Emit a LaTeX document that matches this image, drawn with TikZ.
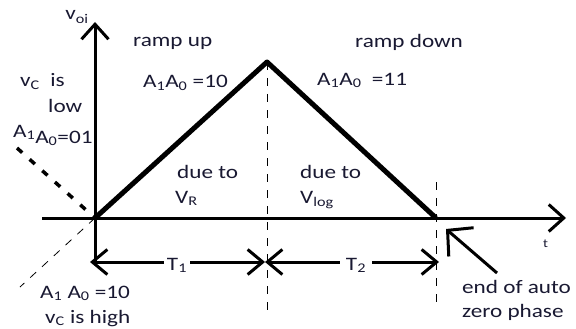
\documentclass[tikz,border=0pt]{standalone}
\usepackage{fontspec}
\setmainfont{Carlito}[FakeStretch=1.22]
\usetikzlibrary{arrows.meta}
\definecolor{ink}{RGB}{25,25,50}
\tikzset{
  axis/.style={line width=3pt,-{Straight Barb[length=15pt,width=27pt]}},
  span/.style={line width=3pt,-{Straight Barb[length=15pt,width=25pt]}},
  ramp/.style={line width=5pt,line join=round},
  guide/.style={line width=0.9pt,dash pattern=on 8pt off 8pt},
  lbl/.style={font=\fontsize{19}{21}\selectfont,text=ink,inner sep=0pt,anchor=base west},
  tlbl/.style={lbl,anchor=base,inner sep=3pt},
}
\newcommand{\sub}[1]{\textsubscript{#1}}
\begin{document}
\begin{tikzpicture}[x=1pt,y=-1pt]
  \useasboundingbox[fill=white] (0,0) rectangle (576,329);
  % key points
  \coordinate (O) at (95,218);
  \coordinate (peak) at (267,62);
  \coordinate (E) at (436,218);
  \coordinate (xl) at (42,218);
  \coordinate (xr) at (566,218);
  \coordinate (yb) at (95,262);
  \coordinate (yt) at (95,22);
  \coordinate (mid) at (265,262);
  \coordinate (t1l) at (90,262);
  \coordinate (t2r) at (439,262);
  \coordinate (peakfoot) at (267,310);
  \coordinate (etop) at (436,182);
  \coordinate (efoot) at (436,307);
  \coordinate (lowend) at (17,148);
  \coordinate (highend) at (20,287);
  \coordinate (ptail) at (497,273);
  \coordinate (ptip) at (446,229);
  % axes
  \draw[axis] (xl) -- (xr);
  \draw[axis] (yb) -- (yt);
  % ramp
  \draw[ramp] (O) -- (peak) -- (E);
  \draw[guide] (peak) -- (peakfoot);
  \draw[guide] (etop) -- (efoot);
  \draw[line width=3.5pt,dash pattern=on 7pt off 10pt] (lowend) -- (O);
  \draw[guide,line width=0.8pt] (O) -- (highend);
  % labels
  \node[lbl,anchor=base] (voi) at (77,20) {v\sub{oi}};
  \node[lbl] (up) at (133,47) {ramp up};
  \node[lbl] (code10) at (143,88) {A\sub{1}A\sub{0} =10};
  \node[lbl] (down) at (355,48) {ramp down};
  \node[lbl] (code11) at (317,85) {A\sub{1}A\sub{0}\ \ =11};
  \node[lbl] (vclow) at (20,87) {v\sub{C}\ \ is};
  \node[lbl] (low) at (48,112) {low};
  \node[lbl] (code01) at (13,137) {A\sub{1}\raisebox{-6pt}{A\sub{0}=01}};
  \node[lbl] (due1) at (177,178) {due to};
  \node[lbl] (vr) at (175,203) {V\sub{R}};
  \node[lbl] (due2) at (300,178) {due to};
  \node[lbl] (vlog) at (300,203) {V\sub{log}};
  \node[lbl,font=\fontsize{12}{14}\selectfont] (t) at (543,247) {t};
  \node[lbl] (code10b) at (40,298) {A\sub{1} A\sub{0} =10};
  \node[lbl] (vchigh) at (45,323) {v\sub{C} is high};
  \node[lbl] (endauto) at (462,293) {end of auto};
  \node[lbl] (zero) at (462,317) {zero phase};
  \node[tlbl] (T1) at (177,270) {T\sub{1}};
  \node[tlbl,inner xsep=6pt] (T2) at (356,270) {T\sub{2}};
  % time spans
  \draw[span] (T1.west |- mid) -- (t1l);
  \draw[span] (T1.east |- mid) -- (mid);
  \draw[span] (T2.west |- mid) -- (mid);
  \draw[span] (T2.east |- mid) -- (t2r);
  % pointer
  \draw[line width=3pt,-{Straight Barb[length=18pt,width=38pt]}] (ptail) -- (ptip);
\end{tikzpicture}
\end{document}
